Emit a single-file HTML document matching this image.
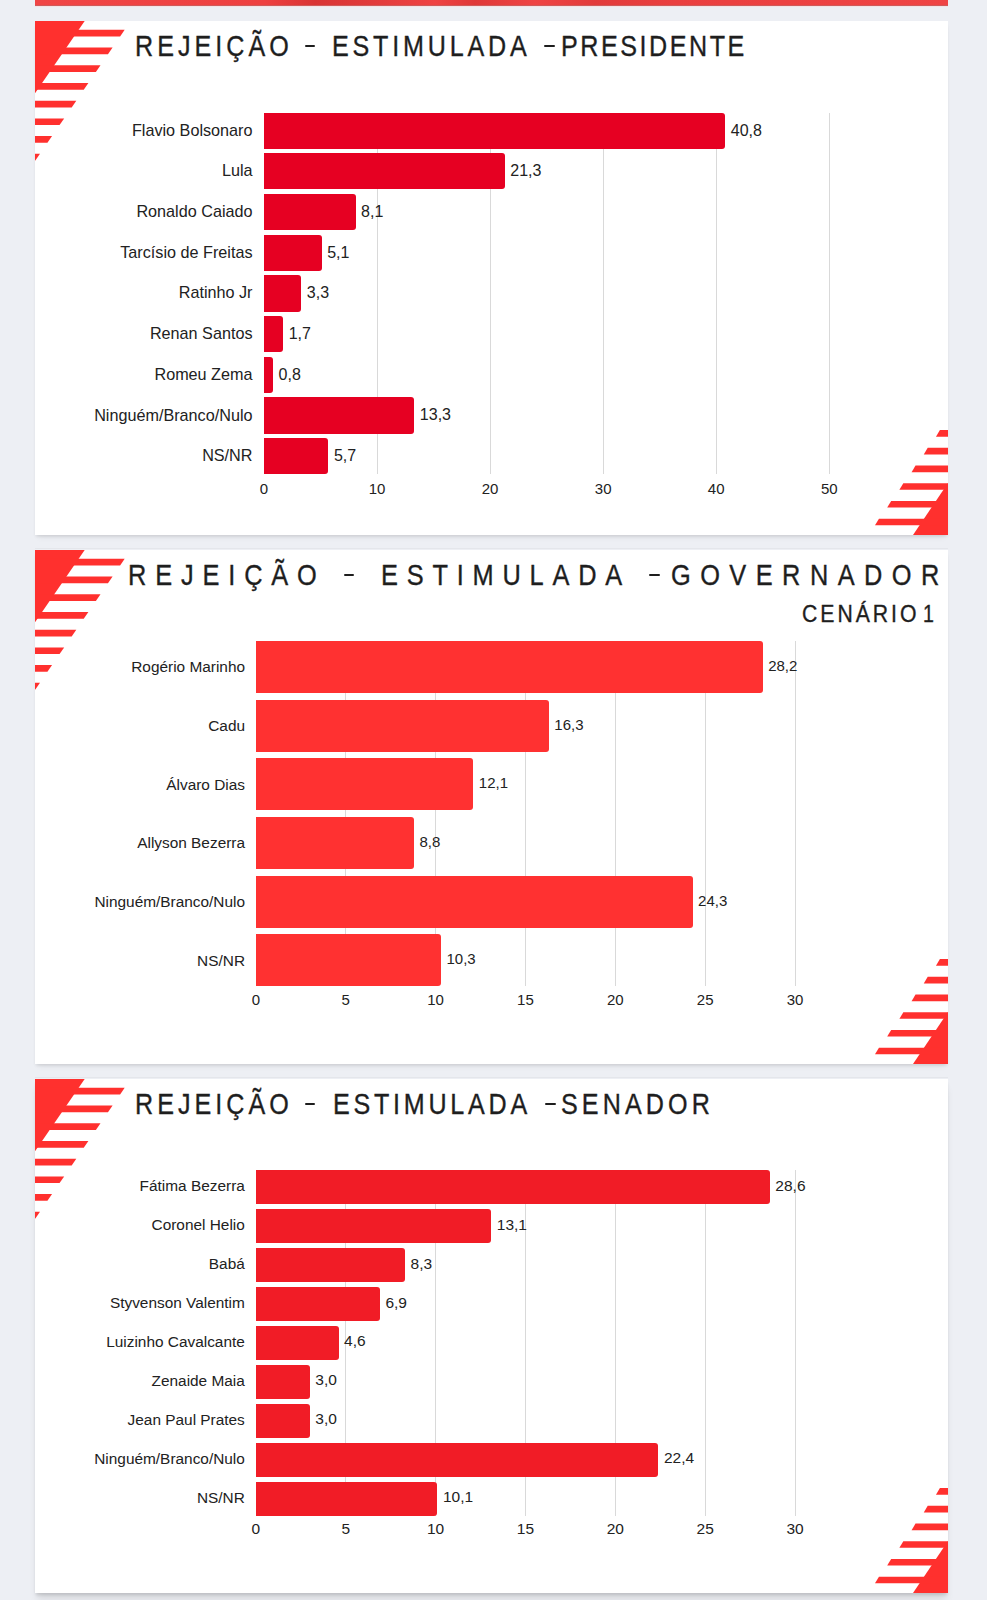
<!DOCTYPE html><html><head><meta charset="utf-8"><style>html,body{margin:0;padding:0}
body{width:987px;height:1600px;background:#edeff4;position:relative;overflow:hidden;font-family:"Liberation Sans",sans-serif}
.card{position:absolute;left:35px;width:913px;background:#fff;box-shadow:0 2.5px 3px -1px rgba(0,0,0,0.10),0 5px 7px -3px rgba(0,0,0,0.06)}
.tw{position:absolute;white-space:nowrap;line-height:1;color:#1e1e1e;transform-origin:0 0;-webkit-text-stroke:0.35px #1e1e1e}
.lb{position:absolute;white-space:nowrap;line-height:1;color:#222222;text-align:right}
.vl{position:absolute;white-space:nowrap;line-height:1;color:#222222}
.ax{position:absolute;white-space:nowrap;line-height:1;color:#222222;width:100px;text-align:center}
</style></head><body><div style="position:absolute;left:35px;top:0;width:913px;height:5px;background:linear-gradient(90deg,#f04545 0,#ee4040 230px,#d93434 280px,#e03a3a 330px,#ef4343 400px,#df3838 440px,#ef4444 500px,#e23b3b 560px,#ea3f3f 640px,#ef4444 913px);border-bottom:1px solid #cf5a5a"></div><div style="position:absolute;left:35px;top:6px;width:913px;height:1px;background:#f3e3e5"></div><div class="card" style="top:21px;height:514px"></div><svg style="position:absolute;left:35px;top:21px" width="130" height="150" viewBox="0 0 130 150" fill="#ff302e"><polygon points="0,0 49.7,0 0,72.3"/><polygon points="0,8.8 89.7,8.8 85.08,15.5 0,15.5"/><polygon points="0,26.52 77.6,26.52 72.97,33.22 0,33.22"/><polygon points="0,44.24 65.49,44.24 60.87,50.94 0,50.94"/><polygon points="0,61.96 53.39,61.96 48.77,68.66 0,68.66"/><polygon points="0,79.68 41.29,79.68 36.67,86.38 0,86.38"/><polygon points="0,97.4 29.19,97.4 24.56,104.1 0,104.1"/><polygon points="0,115.12 17.08,115.12 12.46,121.82 0,121.82"/><polygon points="0,132.84 4.98,132.84 0.36,139.54 0,139.54"/></svg><svg style="position:absolute;left:848px;top:405px" width="100" height="130" viewBox="0 0 100 130" fill="#ff302e"><g transform="translate(100,130) rotate(180)"><polygon points="0,0 35,0 0,52"/><polygon points="0,9.7 73,9.7 69.04,16.3 0,16.3"/><polygon points="0,27.42 60.81,27.42 56.85,34.02 0,34.02"/><polygon points="0,45.14 48.62,45.14 44.66,51.74 0,51.74"/><polygon points="0,62.86 36.43,62.86 32.47,69.46 0,69.46"/><polygon points="0,80.58 24.23,80.58 20.27,87.18 0,87.18"/><polygon points="0,98.3 12.04,98.3 8.08,104.9 0,104.9"/></g></svg><div style="position:absolute;left:35px;width:913px;top:547.9px;height:1.6px;background:rgba(0,0,0,0.035)"></div><div class="card" style="top:550.1px;height:513.7px"></div><svg style="position:absolute;left:35px;top:550.1px" width="130" height="150" viewBox="0 0 130 150" fill="#ff302e"><polygon points="0,0 49.7,0 0,72.3"/><polygon points="0,8.8 89.7,8.8 85.08,15.5 0,15.5"/><polygon points="0,26.52 77.6,26.52 72.97,33.22 0,33.22"/><polygon points="0,44.24 65.49,44.24 60.87,50.94 0,50.94"/><polygon points="0,61.96 53.39,61.96 48.77,68.66 0,68.66"/><polygon points="0,79.68 41.29,79.68 36.67,86.38 0,86.38"/><polygon points="0,97.4 29.19,97.4 24.56,104.1 0,104.1"/><polygon points="0,115.12 17.08,115.12 12.46,121.82 0,121.82"/><polygon points="0,132.84 4.98,132.84 0.36,139.54 0,139.54"/></svg><svg style="position:absolute;left:848px;top:933.8px" width="100" height="130" viewBox="0 0 100 130" fill="#ff302e"><g transform="translate(100,130) rotate(180)"><polygon points="0,0 35,0 0,52"/><polygon points="0,9.7 73,9.7 69.04,16.3 0,16.3"/><polygon points="0,27.42 60.81,27.42 56.85,34.02 0,34.02"/><polygon points="0,45.14 48.62,45.14 44.66,51.74 0,51.74"/><polygon points="0,62.86 36.43,62.86 32.47,69.46 0,69.46"/><polygon points="0,80.58 24.23,80.58 20.27,87.18 0,87.18"/><polygon points="0,98.3 12.04,98.3 8.08,104.9 0,104.9"/></g></svg><div style="position:absolute;left:35px;width:913px;top:1076.9px;height:1.6px;background:rgba(0,0,0,0.035)"></div><div class="card" style="top:1079.1px;height:513.5px;box-shadow:0 3px 3px -1px rgba(0,0,0,0.12),0 8px 8px -2px rgba(0,0,0,0.10)"></div><svg style="position:absolute;left:35px;top:1079.1px" width="130" height="150" viewBox="0 0 130 150" fill="#ff302e"><polygon points="0,0 49.7,0 0,72.3"/><polygon points="0,8.8 89.7,8.8 85.08,15.5 0,15.5"/><polygon points="0,26.52 77.6,26.52 72.97,33.22 0,33.22"/><polygon points="0,44.24 65.49,44.24 60.87,50.94 0,50.94"/><polygon points="0,61.96 53.39,61.96 48.77,68.66 0,68.66"/><polygon points="0,79.68 41.29,79.68 36.67,86.38 0,86.38"/><polygon points="0,97.4 29.19,97.4 24.56,104.1 0,104.1"/><polygon points="0,115.12 17.08,115.12 12.46,121.82 0,121.82"/><polygon points="0,132.84 4.98,132.84 0.36,139.54 0,139.54"/></svg><svg style="position:absolute;left:848px;top:1462.6px" width="100" height="130" viewBox="0 0 100 130" fill="#ff302e"><g transform="translate(100,130) rotate(180)"><polygon points="0,0 35,0 0,52"/><polygon points="0,9.7 73,9.7 69.04,16.3 0,16.3"/><polygon points="0,27.42 60.81,27.42 56.85,34.02 0,34.02"/><polygon points="0,45.14 48.62,45.14 44.66,51.74 0,51.74"/><polygon points="0,62.86 36.43,62.86 32.47,69.46 0,69.46"/><polygon points="0,80.58 24.23,80.58 20.27,87.18 0,87.18"/><polygon points="0,98.3 12.04,98.3 8.08,104.9 0,104.9"/></g></svg><div class="tw" style="left:135.06px;top:31.17px;font-size:29.57px;letter-spacing:4.73px;transform:scaleX(0.85);color:#1e1e1e">REJEIÇÃO</div><div style="position:absolute;left:304.7px;top:44.95px;width:10.7px;height:2.3px;background:#1e1e1e;border-radius:1px"></div><div class="tw" style="left:332.26px;top:31.17px;font-size:29.57px;letter-spacing:4.46px;transform:scaleX(0.85);color:#1e1e1e">ESTIMULADA</div><div style="position:absolute;left:544.1px;top:44.95px;width:10.8px;height:2.3px;background:#1e1e1e;border-radius:1px"></div><div class="tw" style="left:561.16px;top:31.17px;font-size:29.57px;letter-spacing:2.98px;transform:scaleX(0.85);color:#1e1e1e">PRESIDENTE</div><div class="tw" style="left:127.86px;top:560.02px;font-size:29.86px;letter-spacing:10.41px;transform:scaleX(0.85);color:#1e1e1e">REJEIÇÃO</div><div style="position:absolute;left:344px;top:573.95px;width:10px;height:2.3px;background:#1e1e1e;border-radius:1px"></div><div class="tw" style="left:380.96px;top:560.02px;font-size:29.86px;letter-spacing:10.34px;transform:scaleX(0.85);color:#1e1e1e">ESTIMULADA</div><div style="position:absolute;left:649.4px;top:573.95px;width:10.6px;height:2.3px;background:#1e1e1e;border-radius:1px"></div><div class="tw" style="left:671.02px;top:560.02px;font-size:29.86px;letter-spacing:11.11px;transform:scaleX(0.85);color:#1e1e1e">GOVERNADOR</div><div class="tw" style="left:801.5px;top:602.61px;font-size:23.04px;letter-spacing:3.24px;transform:scaleX(0.92);color:#1e1e1e">CENÁRIO</div><div class="tw" style="left:923.35px;top:602.61px;font-size:23.04px;letter-spacing:0px;transform:scaleX(0.85);color:#1e1e1e">1</div><div class="tw" style="left:134.96px;top:1089.27px;font-size:29.57px;letter-spacing:4.71px;transform:scaleX(0.85);color:#1e1e1e">REJEIÇÃO</div><div style="position:absolute;left:304.9px;top:1103.05px;width:10px;height:2.3px;background:#1e1e1e;border-radius:1px"></div><div class="tw" style="left:332.66px;top:1089.27px;font-size:29.57px;letter-spacing:4.39px;transform:scaleX(0.85);color:#1e1e1e">ESTIMULADA</div><div style="position:absolute;left:545.2px;top:1103.05px;width:11px;height:2.3px;background:#1e1e1e;border-radius:1px"></div><div class="tw" style="left:561.01px;top:1089.27px;font-size:29.57px;letter-spacing:4.81px;transform:scaleX(0.85);color:#1e1e1e">SENADOR</div><div class="ax" style="left:214px;top:481px;font-size:15px">0</div><div style="position:absolute;left:376.55px;top:112.5px;width:1px;height:361.74px;background:#d9d9d9"></div><div class="ax" style="left:327.05px;top:481px;font-size:15px">10</div><div style="position:absolute;left:489.6px;top:112.5px;width:1px;height:361.74px;background:#d9d9d9"></div><div class="ax" style="left:440.1px;top:481px;font-size:15px">20</div><div style="position:absolute;left:602.65px;top:112.5px;width:1px;height:361.74px;background:#d9d9d9"></div><div class="ax" style="left:553.15px;top:481px;font-size:15px">30</div><div style="position:absolute;left:715.7px;top:112.5px;width:1px;height:361.74px;background:#d9d9d9"></div><div class="ax" style="left:666.2px;top:481px;font-size:15px">40</div><div style="position:absolute;left:828.75px;top:112.5px;width:1px;height:361.74px;background:#d9d9d9"></div><div class="ax" style="left:779.25px;top:481px;font-size:15px">50</div><div style="position:absolute;left:264px;top:112.5px;width:461.24px;height:36.3px;background:#e60022;border-radius:0 3px 3px 0"></div><div class="lb" style="right:734.5px;top:121.75px;font-size:16.2px">Flavio Bolsonaro</div><div class="vl" style="left:730.74px;top:122.65px;font-size:16px">40,8</div><div style="position:absolute;left:264px;top:153.18px;width:240.8px;height:36.3px;background:#e60022;border-radius:0 3px 3px 0"></div><div class="lb" style="right:734.5px;top:162.43px;font-size:16.2px">Lula</div><div class="vl" style="left:510.3px;top:163.33px;font-size:16px">21,3</div><div style="position:absolute;left:264px;top:193.86px;width:91.57px;height:36.3px;background:#e60022;border-radius:0 3px 3px 0"></div><div class="lb" style="right:734.5px;top:203.11px;font-size:16.2px">Ronaldo Caiado</div><div class="vl" style="left:361.07px;top:204.01px;font-size:16px">8,1</div><div style="position:absolute;left:264px;top:234.54px;width:57.66px;height:36.3px;background:#e60022;border-radius:0 3px 3px 0"></div><div class="lb" style="right:734.5px;top:243.79px;font-size:16.2px">Tarcísio de Freitas</div><div class="vl" style="left:327.16px;top:244.69px;font-size:16px">5,1</div><div style="position:absolute;left:264px;top:275.22px;width:37.31px;height:36.3px;background:#e60022;border-radius:0 3px 3px 0"></div><div class="lb" style="right:734.5px;top:284.47px;font-size:16.2px">Ratinho Jr</div><div class="vl" style="left:306.81px;top:285.37px;font-size:16px">3,3</div><div style="position:absolute;left:264px;top:315.9px;width:19.22px;height:36.3px;background:#e60022;border-radius:0 3px 3px 0"></div><div class="lb" style="right:734.5px;top:325.15px;font-size:16.2px">Renan Santos</div><div class="vl" style="left:288.72px;top:326.05px;font-size:16px">1,7</div><div style="position:absolute;left:264px;top:356.58px;width:9.04px;height:36.3px;background:#e60022;border-radius:0 3px 3px 0"></div><div class="lb" style="right:734.5px;top:365.83px;font-size:16.2px">Romeu Zema</div><div class="vl" style="left:278.54px;top:366.73px;font-size:16px">0,8</div><div style="position:absolute;left:264px;top:397.26px;width:150.36px;height:36.3px;background:#e60022;border-radius:0 3px 3px 0"></div><div class="lb" style="right:734.5px;top:406.51px;font-size:16.2px">Ninguém/Branco/Nulo</div><div class="vl" style="left:419.86px;top:407.41px;font-size:16px">13,3</div><div style="position:absolute;left:264px;top:437.94px;width:64.44px;height:36.3px;background:#e60022;border-radius:0 3px 3px 0"></div><div class="lb" style="right:734.5px;top:447.19px;font-size:16.2px">NS/NR</div><div class="vl" style="left:333.94px;top:448.09px;font-size:16px">5,7</div><div class="ax" style="left:205.9px;top:992px;font-size:15px">0</div><div style="position:absolute;left:345.25px;top:640.9px;width:1px;height:345.55px;background:#d9d9d9"></div><div class="ax" style="left:295.75px;top:992px;font-size:15px">5</div><div style="position:absolute;left:435.1px;top:640.9px;width:1px;height:345.55px;background:#d9d9d9"></div><div class="ax" style="left:385.6px;top:992px;font-size:15px">10</div><div style="position:absolute;left:524.95px;top:640.9px;width:1px;height:345.55px;background:#d9d9d9"></div><div class="ax" style="left:475.45px;top:992px;font-size:15px">15</div><div style="position:absolute;left:614.8px;top:640.9px;width:1px;height:345.55px;background:#d9d9d9"></div><div class="ax" style="left:565.3px;top:992px;font-size:15px">20</div><div style="position:absolute;left:704.65px;top:640.9px;width:1px;height:345.55px;background:#d9d9d9"></div><div class="ax" style="left:655.15px;top:992px;font-size:15px">25</div><div style="position:absolute;left:794.5px;top:640.9px;width:1px;height:345.55px;background:#d9d9d9"></div><div class="ax" style="left:745px;top:992px;font-size:15px">30</div><div style="position:absolute;left:255.9px;top:640.9px;width:506.75px;height:52.3px;background:#ff3131;border-radius:0 3px 3px 0"></div><div class="lb" style="right:742px;top:659.35px;font-size:15.4px">Rogério Marinho</div><div class="vl" style="left:768.15px;top:657.95px;font-size:15px">28,2</div><div style="position:absolute;left:255.9px;top:699.55px;width:292.91px;height:52.3px;background:#ff3131;border-radius:0 3px 3px 0"></div><div class="lb" style="right:742px;top:718px;font-size:15.4px">Cadu</div><div class="vl" style="left:554.31px;top:716.6px;font-size:15px">16,3</div><div style="position:absolute;left:255.9px;top:758.2px;width:217.44px;height:52.3px;background:#ff3131;border-radius:0 3px 3px 0"></div><div class="lb" style="right:742px;top:776.65px;font-size:15.4px">Álvaro Dias</div><div class="vl" style="left:478.84px;top:775.25px;font-size:15px">12,1</div><div style="position:absolute;left:255.9px;top:816.85px;width:158.14px;height:52.3px;background:#ff3131;border-radius:0 3px 3px 0"></div><div class="lb" style="right:742px;top:835.3px;font-size:15.4px">Allyson Bezerra</div><div class="vl" style="left:419.54px;top:833.9px;font-size:15px">8,8</div><div style="position:absolute;left:255.9px;top:875.5px;width:436.67px;height:52.3px;background:#ff3131;border-radius:0 3px 3px 0"></div><div class="lb" style="right:742px;top:893.95px;font-size:15.4px">Ninguém/Branco/Nulo</div><div class="vl" style="left:698.07px;top:892.55px;font-size:15px">24,3</div><div style="position:absolute;left:255.9px;top:934.15px;width:185.09px;height:52.3px;background:#ff3131;border-radius:0 3px 3px 0"></div><div class="lb" style="right:742px;top:952.6px;font-size:15.4px">NS/NR</div><div class="vl" style="left:446.49px;top:951.2px;font-size:15px">10,3</div><div class="ax" style="left:205.9px;top:1520.65px;font-size:15.5px">0</div><div style="position:absolute;left:345.25px;top:1170.3px;width:1px;height:345.4px;background:#d9d9d9"></div><div class="ax" style="left:295.75px;top:1520.65px;font-size:15.5px">5</div><div style="position:absolute;left:435.1px;top:1170.3px;width:1px;height:345.4px;background:#d9d9d9"></div><div class="ax" style="left:385.6px;top:1520.65px;font-size:15.5px">10</div><div style="position:absolute;left:524.95px;top:1170.3px;width:1px;height:345.4px;background:#d9d9d9"></div><div class="ax" style="left:475.45px;top:1520.65px;font-size:15.5px">15</div><div style="position:absolute;left:614.8px;top:1170.3px;width:1px;height:345.4px;background:#d9d9d9"></div><div class="ax" style="left:565.3px;top:1520.65px;font-size:15.5px">20</div><div style="position:absolute;left:704.65px;top:1170.3px;width:1px;height:345.4px;background:#d9d9d9"></div><div class="ax" style="left:655.15px;top:1520.65px;font-size:15.5px">25</div><div style="position:absolute;left:794.5px;top:1170.3px;width:1px;height:345.4px;background:#d9d9d9"></div><div class="ax" style="left:745px;top:1520.65px;font-size:15.5px">30</div><div style="position:absolute;left:255.9px;top:1170.3px;width:513.94px;height:34.2px;background:#f11c26;border-radius:0 3px 3px 0"></div><div class="lb" style="right:742.2px;top:1178.4px;font-size:15.4px">Fátima Bezerra</div><div class="vl" style="left:775.34px;top:1177.85px;font-size:15.5px">28,6</div><div style="position:absolute;left:255.9px;top:1209.2px;width:235.41px;height:34.2px;background:#f11c26;border-radius:0 3px 3px 0"></div><div class="lb" style="right:742.2px;top:1217.3px;font-size:15.4px">Coronel Helio</div><div class="vl" style="left:496.81px;top:1216.75px;font-size:15.5px">13,1</div><div style="position:absolute;left:255.9px;top:1248.1px;width:149.15px;height:34.2px;background:#f11c26;border-radius:0 3px 3px 0"></div><div class="lb" style="right:742.2px;top:1256.2px;font-size:15.4px">Babá</div><div class="vl" style="left:410.55px;top:1255.65px;font-size:15.5px">8,3</div><div style="position:absolute;left:255.9px;top:1287px;width:123.99px;height:34.2px;background:#f11c26;border-radius:0 3px 3px 0"></div><div class="lb" style="right:742.2px;top:1295.1px;font-size:15.4px">Styvenson Valentim</div><div class="vl" style="left:385.39px;top:1294.55px;font-size:15.5px">6,9</div><div style="position:absolute;left:255.9px;top:1325.9px;width:82.66px;height:34.2px;background:#f11c26;border-radius:0 3px 3px 0"></div><div class="lb" style="right:742.2px;top:1334px;font-size:15.4px">Luizinho Cavalcante</div><div class="vl" style="left:344.06px;top:1333.45px;font-size:15.5px">4,6</div><div style="position:absolute;left:255.9px;top:1364.8px;width:53.91px;height:34.2px;background:#f11c26;border-radius:0 3px 3px 0"></div><div class="lb" style="right:742.2px;top:1372.9px;font-size:15.4px">Zenaide Maia</div><div class="vl" style="left:315.31px;top:1372.35px;font-size:15.5px">3,0</div><div style="position:absolute;left:255.9px;top:1403.7px;width:53.91px;height:34.2px;background:#f11c26;border-radius:0 3px 3px 0"></div><div class="lb" style="right:742.2px;top:1411.8px;font-size:15.4px">Jean Paul Prates</div><div class="vl" style="left:315.31px;top:1411.25px;font-size:15.5px">3,0</div><div style="position:absolute;left:255.9px;top:1442.6px;width:402.53px;height:34.2px;background:#f11c26;border-radius:0 3px 3px 0"></div><div class="lb" style="right:742.2px;top:1450.7px;font-size:15.4px">Ninguém/Branco/Nulo</div><div class="vl" style="left:663.93px;top:1450.15px;font-size:15.5px">22,4</div><div style="position:absolute;left:255.9px;top:1481.5px;width:181.5px;height:34.2px;background:#f11c26;border-radius:0 3px 3px 0"></div><div class="lb" style="right:742.2px;top:1489.6px;font-size:15.4px">NS/NR</div><div class="vl" style="left:442.9px;top:1489.05px;font-size:15.5px">10,1</div></body></html>
